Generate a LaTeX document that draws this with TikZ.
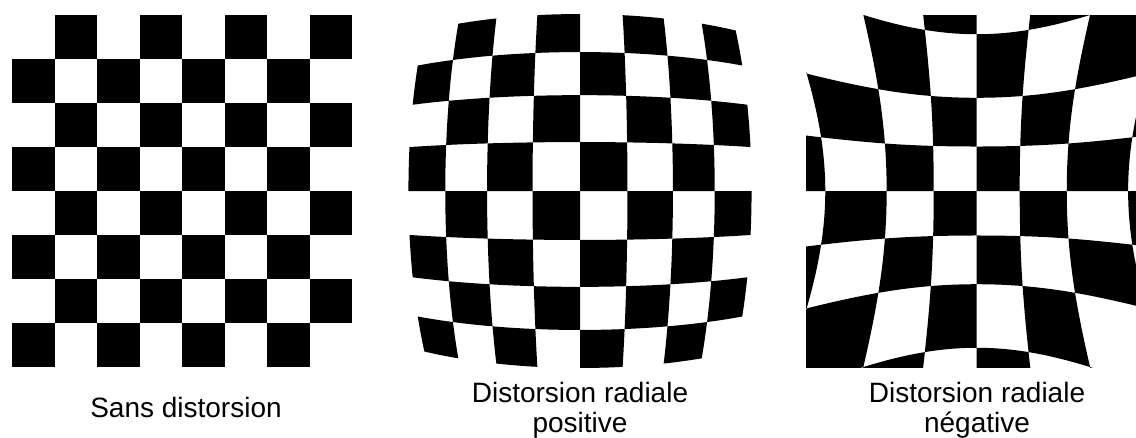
\documentclass[tikz,border=0pt]{standalone}
\usepackage{fontspec}
\setmainfont{Liberation Sans}
\usepackage{tikz}
\usetikzlibrary{positioning}

\begin{document}
\begin{tikzpicture}[x=1pt, y=-1pt,
      sq/.style={fill=black},
      lbl/.style={font=\fontsize{28}{30}\selectfont, align=center, inner sep=0pt, anchor=base},
      declare function={wb(\p,\q)=1/(1+0.00714*(\p*\p+\q*\q));
                        wp(\p,\q)=1+0.01*(\p*\p+\q*\q)+0.0012*(\p*\p+\q*\q)^2;}
    ]
    \fill[white] (0,0) rectangle (1136,437);
    \useasboundingbox (0,0) rectangle (1136,437);
    \foreach \j in {0,...,7}
      \foreach \k in {0,...,3} {
        \pgfmathsetmacro\ci{2*\k+mod(\j+1,2)}
        \fill[sq] ({12+42.5*\ci},{15+44*\j}) rectangle ++(42.5,44);
      }
    \foreach \j in {0,...,7}
      \foreach \k in {0,...,3} {
        \pgfmathsetmacro\ua{2*\k+mod(\j+1,2)-4}
        \pgfmathsetmacro\ub{\ua+1}
        \pgfmathsetmacro\va{\j-4}
        \pgfmathsetmacro\vb{\va+1}
        \fill[sq] plot[domain=\ua:\ub, samples=10] ({580+47.8*\x*wb(\x,\va)},{191+49.3*\va*wb(\x,\va)})
          -- plot[domain=\va:\vb, samples=10] ({580+47.8*\ub*wb(\ub,\x)},{191+49.3*\x*wb(\ub,\x)})
          -- plot[domain=\ub:\ua, samples=10] ({580+47.8*\x*wb(\x,\vb)},{191+49.3*\vb*wb(\x,\vb)})
          -- plot[domain=\vb:\va, samples=10] ({580+47.8*\ua*wb(\ua,\x)},{191+49.3*\x*wb(\ua,\x)}) -- cycle;
      }
    \begin{scope}
      \clip (806,15) rectangle (1136,367);
      \foreach \j in {0,...,7}
        \foreach \k in {0,...,3} {
          \pgfmathsetmacro\ua{2*\k+mod(\j+1,2)-4}
          \pgfmathsetmacro\ub{\ua+1}
          \pgfmathsetmacro\va{\j-4}
          \pgfmathsetmacro\vb{\va+1}
          \fill[sq] plot[domain=\ua:\ub, samples=14] ({976.7+42.5*\x*wp(\x,\va)},{191+44*\va*wp(\x,\va)})
            -- plot[domain=\va:\vb, samples=14] ({976.7+42.5*\ub*wp(\ub,\x)},{191+44*\x*wp(\ub,\x)})
            -- plot[domain=\ub:\ua, samples=14] ({976.7+42.5*\x*wp(\x,\vb)},{191+44*\vb*wp(\x,\vb)})
            -- plot[domain=\vb:\va, samples=14] ({976.7+42.5*\ua*wp(\ua,\x)},{191+44*\x*wp(\ua,\x)}) -- cycle;
        }
    \end{scope}
    \node[lbl] (sans) at (186,417) {Sans distorsion};
    \node[lbl] (pos) at (580,432) {Distorsion radiale\\positive};
    \node[lbl] (neg) at (977,432) {Distorsion radiale\\négative};
  \end{tikzpicture}
\end{document}
